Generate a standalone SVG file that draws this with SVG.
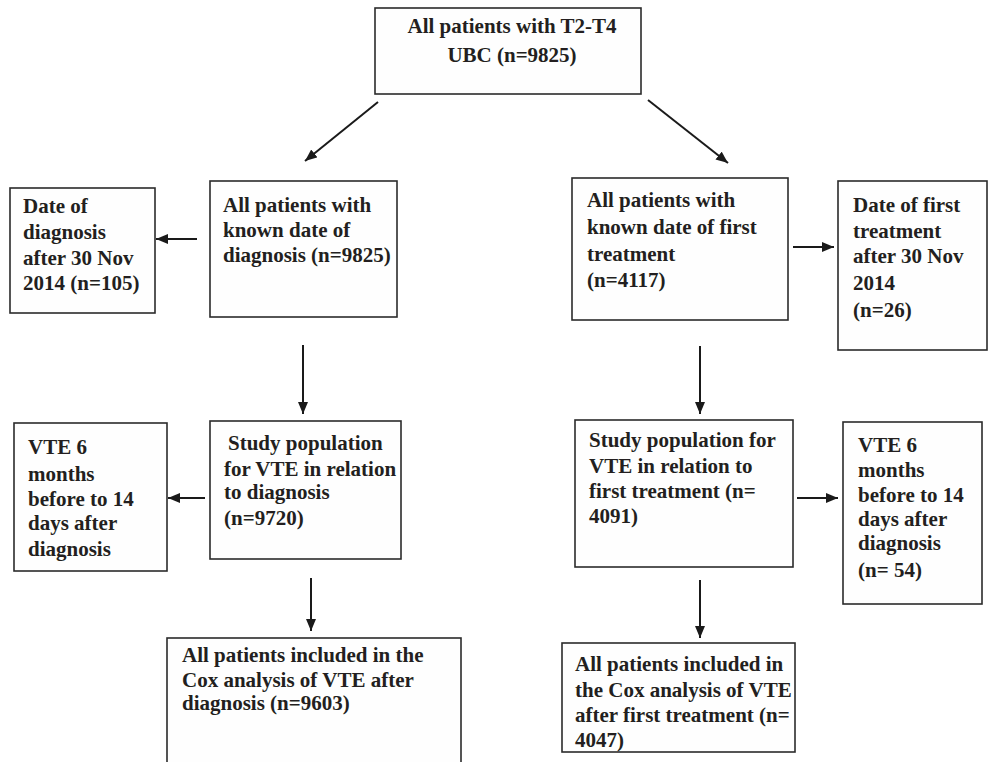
<svg xmlns="http://www.w3.org/2000/svg" width="1006" height="762" viewBox="0 0 1006 762">
<style>
.box{fill:#fefefe;stroke:#2b2b2b;stroke-width:1.6}
.t{font-family:"Liberation Serif","Times New Roman",serif;font-weight:bold;font-size:21px;fill:#231f20}
.c{stroke:#1a1a1a;stroke-width:2;fill:none}
</style>
<defs>
<marker id="ah" markerUnits="userSpaceOnUse" markerWidth="14" markerHeight="12" refX="12" refY="5" orient="auto">
<path d="M0,0 L12,5 L0,10 Z" fill="#1a1a1a"/>
</marker>
</defs>
<rect width="1006" height="762" fill="#ffffff"/>
<g id="connectors">
<line class="c" x1="378" y1="102" x2="305" y2="161" marker-end="url(#ah)"/>
<line class="c" x1="648" y1="100" x2="728" y2="163" marker-end="url(#ah)"/>
<line class="c" x1="197" y1="239" x2="156" y2="239" marker-end="url(#ah)"/>
<line class="c" x1="793" y1="247" x2="834" y2="247" marker-end="url(#ah)"/>
<line class="c" x1="303" y1="345" x2="303" y2="414" marker-end="url(#ah)"/>
<line class="c" x1="700" y1="346" x2="700" y2="414" marker-end="url(#ah)"/>
<line class="c" x1="205" y1="498" x2="168" y2="498" marker-end="url(#ah)"/>
<line class="c" x1="797" y1="498" x2="838" y2="498" marker-end="url(#ah)"/>
<line class="c" x1="311" y1="578" x2="311" y2="631" marker-end="url(#ah)"/>
<line class="c" x1="700" y1="580" x2="700" y2="638" marker-end="url(#ah)"/>
</g>
<g id="top">
<rect class="box" x="375" y="8" width="266" height="86"/>
<text class="t" text-anchor="middle"><tspan x="512" y="33">All patients with T2-T4</tspan><tspan x="512" y="62">UBC (n=9825)</tspan></text>
</g>
<g id="known-diagnosis">
<rect class="box" x="210" y="181" width="187" height="136"/>
<text class="t"><tspan x="223" y="212">All patients with</tspan><tspan x="223" y="237">known date of</tspan><tspan x="223" y="262">diagnosis (n=9825)</tspan></text>
</g>
<g id="diagnosis-after">
<rect class="box" x="10" y="188" width="145" height="125"/>
<text class="t"><tspan x="23" y="213">Date of</tspan><tspan x="23" y="239">diagnosis</tspan><tspan x="23" y="265">after 30 Nov</tspan><tspan x="23" y="290">2014 (n=105)</tspan></text>
</g>
<g id="known-treatment">
<rect class="box" x="572" y="178" width="216" height="142"/>
<text class="t"><tspan x="587" y="207">All patients with</tspan><tspan x="587" y="234">known date of first</tspan><tspan x="587" y="261">treatment</tspan><tspan x="587" y="287">(n=4117)</tspan></text>
</g>
<g id="treatment-after">
<rect class="box" x="838" y="181" width="149" height="169"/>
<text class="t"><tspan x="853" y="212">Date of first</tspan><tspan x="853" y="238">treatment</tspan><tspan x="853" y="263">after 30 Nov</tspan><tspan x="853" y="290">2014</tspan><tspan x="853" y="317">(n=26)</tspan></text>
</g>
<g id="study-diagnosis">
<rect class="box" x="210" y="421" width="191" height="138"/>
<text class="t"><tspan x="228" y="450">Study population</tspan><tspan x="224" y="476">for VTE in relation</tspan><tspan x="224" y="499">to diagnosis</tspan><tspan x="224" y="525">(n=9720)</tspan></text>
</g>
<g id="vte-left">
<rect class="box" x="14" y="423" width="153" height="148"/>
<text class="t"><tspan x="28" y="454">VTE 6</tspan><tspan x="28" y="481">months</tspan><tspan x="28" y="506">before to 14</tspan><tspan x="28" y="530">days after</tspan><tspan x="28" y="556">diagnosis</tspan></text>
</g>
<g id="study-treatment">
<rect class="box" x="575" y="420" width="218" height="147"/>
<text class="t"><tspan x="589" y="447">Study population for</tspan><tspan x="589" y="473">VTE in relation to</tspan><tspan x="589" y="498">first treatment (n=</tspan><tspan x="589" y="523">4091)</tspan></text>
</g>
<g id="vte-right">
<rect class="box" x="843" y="422" width="139" height="182"/>
<text class="t"><tspan x="858" y="452">VTE 6</tspan><tspan x="858" y="477">months</tspan><tspan x="858" y="502">before to 14</tspan><tspan x="858" y="526">days after</tspan><tspan x="858" y="550">diagnosis</tspan><tspan x="858" y="577">(n= 54)</tspan></text>
</g>
<g id="cox-diagnosis">
<rect class="box" x="167" y="638" width="294" height="130"/>
<text class="t"><tspan x="182" y="662">All patients included in the</tspan><tspan x="182" y="687">Cox analysis of VTE after</tspan><tspan x="182" y="710">diagnosis (n=9603)</tspan></text>
</g>
<g id="cox-treatment">
<rect class="box" x="562" y="643" width="233" height="109"/>
<text class="t"><tspan x="575" y="671">All patients included in</tspan><tspan x="575" y="697">the Cox analysis of VTE</tspan><tspan x="575" y="722">after first treatment (n=</tspan><tspan x="575" y="747">4047)</tspan></text>
</g>
</svg>
